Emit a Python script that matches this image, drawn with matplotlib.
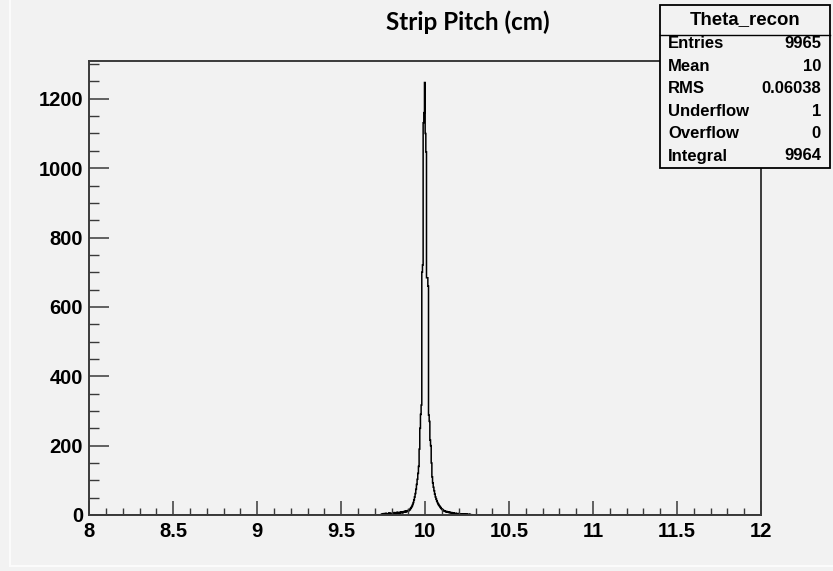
import numpy as np
import matplotlib
matplotlib.use("Agg")
import matplotlib.pyplot as plt
from matplotlib.patches import Rectangle
from matplotlib.ticker import MultipleLocator, FixedLocator, FixedFormatter

# ---------------- data ----------------
title = "Strip Pitch (cm)"
hist_name = "Theta_recon"
x_min, x_max = 8.0, 12.0
bin_width = 0.004
data_start = 9.700          # first bin with listed counts
counts = [
    # 9.700 - 9.740
    0, 0, 0, 0, 0, 0, 0, 0, 0, 0,
    # 9.740 - 9.800
    3, 0, 2, 4, 0, 3, 5, 2, 0, 4, 3, 6, 2, 4, 5,
    # 9.800 - 9.860
    5, 3, 6, 4, 7, 5, 3, 6, 8, 5, 7, 4, 6, 9, 7,
    # 9.860 - 9.900
    8, 6, 9, 10, 8, 11, 9, 12, 10, 13,
    # 9.900 - 9.940
    12, 14, 16, 19, 22, 25, 30, 36, 44, 52,
    # 9.940 - 9.968
    62, 74, 88, 103, 120, 140, 190,
    # 9.968 - 9.988
    250, 290, 317, 700, 721,
    # 9.988 - 10.008 (core)
    1131, 1160, 1247, 1100, 1047,
    # 10.008 - 10.036
    684, 684, 660, 288, 270, 216, 200,
    # 10.036 - 10.100
    150, 110, 93, 80, 70, 60, 52, 46, 41, 36, 32, 28, 26, 23, 20, 18,
    # 10.100 - 10.180
    16, 14, 13, 12, 11, 10, 9, 10, 8, 9, 7, 8, 7, 6, 7, 5, 6, 5, 4, 5,
    # 10.180 - 10.300
    5, 4, 3, 4, 3, 4, 2, 3, 3, 2, 3, 2, 3, 2, 1, 2, 3, 1, 2, 2,
    1, 2, 0, 1, 0, 0, 0, 0, 0, 0,
]
y_max = 1309
x_major = [8, 8.5, 9, 9.5, 10, 10.5, 11, 11.5, 12]
x_labels = ["8", "8.5", "9", "9.5", "10", "10.5", "11", "11.5", "12"]
y_major = [0, 200, 400, 600, 800, 1000, 1200]
y_labels = ["0", "200", "400", "600", "800", "1000", "1200"]
stats_labels = ["Entries", "Mean", "RMS", "Underflow", "Overflow", "Integral"]
stats_values = ["9965", "10", "0.06038", "1", "0", "9964"]

# ---------------- figure ----------------
W, H = 833, 571
BG = "#f2f2f2"
fig = plt.figure(figsize=(W / 100, H / 100), dpi=100, facecolor=BG)

# faint canvas bevel lines
fig.add_artist(plt.Line2D([10 / W, 1], [1 - 566 / H, 1 - 566 / H], transform=fig.transFigure,
                          color="#fbfbfb", lw=1.5, zorder=0))
fig.add_artist(plt.Line2D([10 / W, 10 / W], [1 - 566 / H, 1], transform=fig.transFigure,
                          color="#fbfbfb", lw=1.5, zorder=0))

L, R, T, B = 89.3, 761.0, 61.0, 515.0
ax = fig.add_axes([L / W, 1 - B / H, (R - L) / W, (B - T) / H], facecolor=BG)

n_bins = int(round((x_max - x_min) / bin_width))
full = np.zeros(n_bins)
i0 = int(round((data_start - x_min) / bin_width))
full[i0:i0 + len(counts)] = counts
edges = x_min + bin_width * np.arange(n_bins + 1)
ax.stairs(full, edges, color="black", lw=1.1, baseline=None)

ax.set_xlim(x_min, x_max)
ax.set_ylim(0, y_max)

for s in ax.spines.values():
    s.set_color("#3a3a3a")
    s.set_linewidth(1.4)

ax.xaxis.set_major_locator(FixedLocator(x_major))
ax.xaxis.set_major_formatter(FixedFormatter(x_labels))
ax.xaxis.set_minor_locator(MultipleLocator(0.1))
ax.yaxis.set_major_locator(FixedLocator(y_major))
ax.yaxis.set_major_formatter(FixedFormatter(y_labels))
ax.yaxis.set_minor_locator(MultipleLocator(50))

ax.tick_params(axis="x", which="major", direction="in", length=10, width=1.1,
               color="#3a3a3a", pad=5, top=False)
ax.tick_params(axis="x", which="minor", direction="in", length=5, width=1.0,
               color="#3a3a3a", top=False)
ax.tick_params(axis="y", which="major", direction="in", length=14.5, width=1.1,
               color="#3a3a3a", pad=4.5, right=False)
ax.tick_params(axis="y", which="minor", direction="in", length=7.5, width=1.0,
               color="#3a3a3a", right=False)
for lab in ax.get_xticklabels() + ax.get_yticklabels():
    lab.set_fontfamily("Liberation Sans")
    lab.set_fontweight("bold")
    lab.set_fontsize(14.5)
    lab.set_color("black")

# title
fig.text(468 / W, 1 - 22 / H, title, ha="center", va="center",
         fontfamily="Lato", fontweight="bold", fontsize=17.5, color="black")

# stats box
bx0, bx1, by0, by1 = 660, 830, 5, 168
fig.patches.append(Rectangle((bx0 / W, 1 - by1 / H), (bx1 - bx0) / W, (by1 - by0) / H,
                             transform=fig.transFigure, facecolor=BG,
                             edgecolor="black", lw=1.3, zorder=5))
sep_y = 35
fig.add_artist(plt.Line2D([bx0 / W, bx1 / W], [1 - sep_y / H, 1 - sep_y / H],
                          transform=fig.transFigure, color="black", lw=1.0, zorder=6))
fig.text((bx0 + bx1) / 2 / W, 1 - 20 / H, hist_name, ha="center", va="center",
         fontfamily="Liberation Sans", fontweight="bold", fontsize=13.4, zorder=7)
row_y0, row_dy = 44, 22.4
for k, (lab, val) in enumerate(zip(stats_labels, stats_values)):
    yy = 1 - (row_y0 + k * row_dy) / H
    fig.text(668 / W, yy, lab, ha="left", va="center", fontfamily="Liberation Sans",
             fontweight="bold", fontsize=12, zorder=7)
    fig.text(821 / W, yy, val, ha="right", va="center", fontfamily="Liberation Sans",
             fontweight="bold", fontsize=12, zorder=7)

fig.savefig("out.png", dpi=100, facecolor=BG)
